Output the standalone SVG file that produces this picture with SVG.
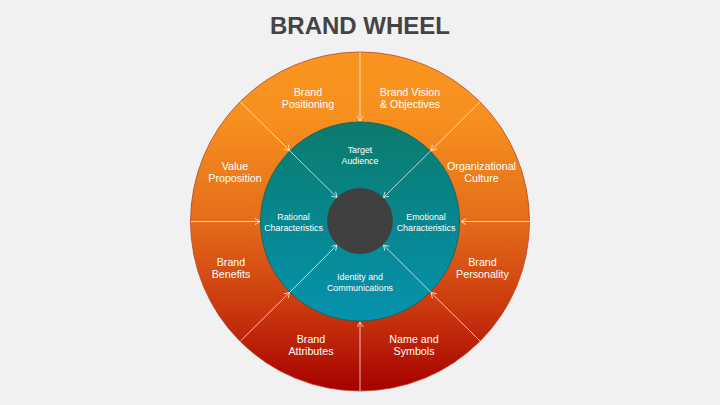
<svg xmlns="http://www.w3.org/2000/svg" width="720" height="405" viewBox="0 0 720 405">
<style>
text{font-family:"Liberation Sans",Arial,sans-serif;fill:#fff;text-anchor:middle}
.o{font-size:10.7px}
.i{font-size:8.9px}
.c{stroke:#fff;stroke-width:.8;fill:none;opacity:.9;marker-end:url(#a)}
</style>
<defs>
<linearGradient id="g1" x1="0" y1="0" x2="0" y2="1"><stop offset="0" stop-color="#f9951f"/><stop offset=".2" stop-color="#f7901e"/><stop offset=".5" stop-color="#e46c1a"/><stop offset=".75" stop-color="#cb3a0e"/><stop offset="1" stop-color="#a60000"/></linearGradient>
<linearGradient id="g2" x1="0" y1="0" x2="0" y2="1"><stop offset="0" stop-color="#0c7a6c"/><stop offset=".5" stop-color="#07878f"/><stop offset="1" stop-color="#0692ae"/></linearGradient>
<marker id="a" markerWidth="7" markerHeight="8" refX="5.6" refY="3.5" orient="auto" markerUnits="userSpaceOnUse"><path d="M.6.4 5.6 3.5.6 6.6" fill="none" stroke="#fff" stroke-width=".8"/></marker>
</defs>
<rect width="720" height="405" fill="#f1f1f1"/>
<text x="360" y="34" style="font-size:24px;font-weight:700;fill:#444">BRAND WHEEL</text>
<g id="outer-ring"><circle cx="360" cy="221.5" r="169.500" fill="url(#g1)" stroke="#b5432a" stroke-width=".8"/></g>
<g id="inner-ring"><circle cx="360" cy="221.5" r="99.500" fill="url(#g2)" stroke="#0d5f5f" stroke-width=".8"/></g>
<g id="hub"><circle cx="360" cy="221" r="33" fill="#404040"/></g>
<g id="connectors">
<path class="c" d="M360 52V121"/>
<path class="c" d="M360 391V322"/>
<path class="c" d="M191 221.500H260"/>
<path class="c" d="M530 221.500H461"/>
<path class="c" d="M240.500 102 289.500 150.500"/>
<path class="c" d="M289.500 150.500 337 197.500"/>
<path class="c" d="M480 102 431 150.500"/>
<path class="c" d="M431 150.500 383.500 197.500"/>
<path class="c" d="M240.500 341 289.500 292.500"/>
<path class="c" d="M289.500 292.500 337 245"/>
<path class="c" d="M480 341 431 292.500"/>
<path class="c" d="M431 292.500 383.500 245"/>
</g>
<g id="brand-positioning"><text class="o" x="308" y="96">Brand</text><text class="o" x="308" y="108">Positioning</text></g>
<g id="brand-vision"><text class="o" x="410" y="96">Brand Vision</text><text class="o" x="410" y="108">&amp; Objectives</text></g>
<g id="value-proposition"><text class="o" x="235" y="170">Value</text><text class="o" x="235" y="182">Proposition</text></g>
<g id="organizational-culture"><text class="o" x="481.500" y="170">Organizational</text><text class="o" x="481.500" y="182">Culture</text></g>
<g id="brand-benefits"><text class="o" x="231" y="266">Brand</text><text class="o" x="231" y="278">Benefits</text></g>
<g id="brand-personality"><text class="o" x="482.500" y="266">Brand</text><text class="o" x="482.500" y="278">Personality</text></g>
<g id="brand-attributes"><text class="o" x="311" y="343">Brand</text><text class="o" x="311" y="355">Attributes</text></g>
<g id="name-symbols"><text class="o" x="414" y="343">Name and</text><text class="o" x="414" y="355">Symbols</text></g>
<g id="target-audience"><text class="i" x="360" y="153">Target</text><text class="i" x="360" y="163.500">Audience</text></g>
<g id="rational"><text class="i" x="293.500" y="220">Rational</text><text class="i" x="293.500" y="230.500">Characteristics</text></g>
<g id="emotional"><text class="i" x="426" y="220">Emotional</text><text class="i" x="426" y="230.500">Characteristics</text></g>
<g id="identity"><text class="i" x="360" y="280">Identity and</text><text class="i" x="360" y="290.500">Communications</text></g>
</svg>
